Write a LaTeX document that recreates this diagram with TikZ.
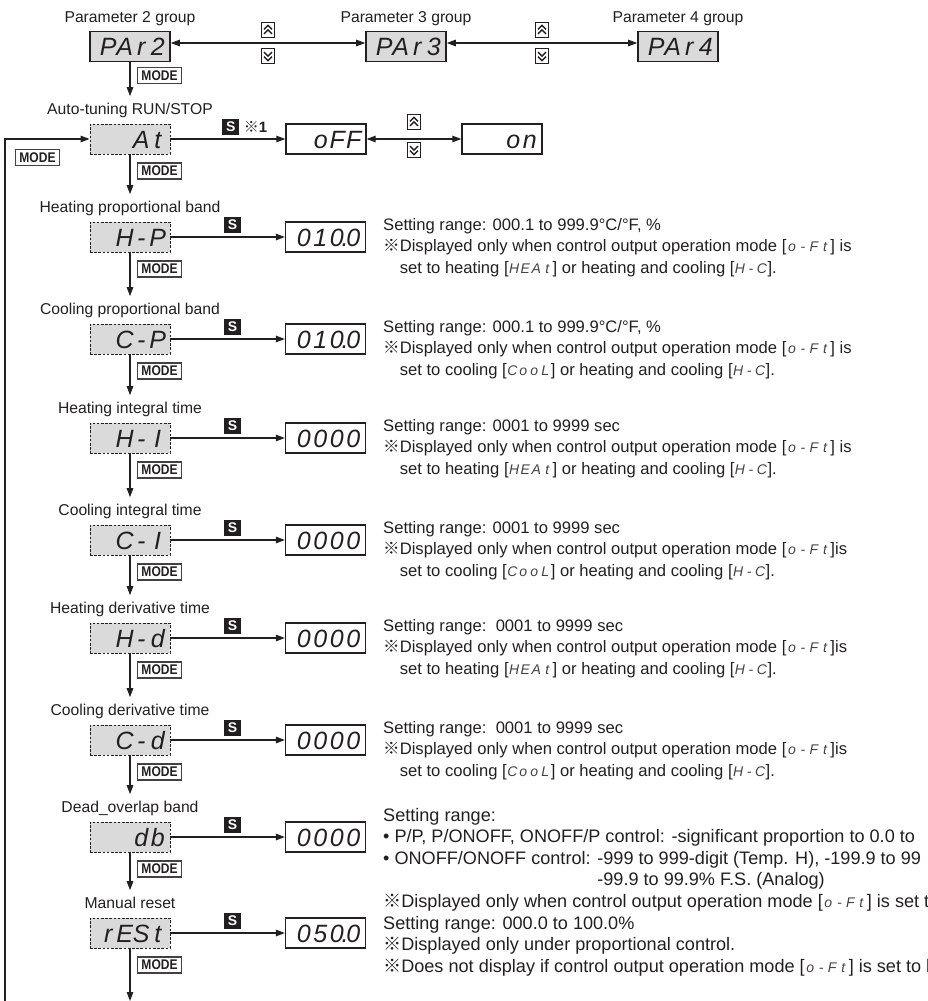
\documentclass[tikz,border=0pt]{standalone}
\usepackage{fontspec}
\setmainfont{Liberation Sans}
\newfontfamily\cjk{Noto Sans CJK JP}
\newfontfamily\keyface[FakeStretch=0.86]{Liberation Sans}
\usepackage{tikz}
\usetikzlibrary{arrows.meta, positioning, calc}
\definecolor{ink}{RGB}{35,31,32}
\definecolor{lcdgray}{RGB}{218,218,218}

% segment cells: one fixed-width cell per character, the point takes no cell
\ExplSyntaxOn
\dim_new:N \l__lcd_cell_dim
\cs_new_protected:Npn \__lcd_cell:n #1
  {
    \str_if_eq:nnTF {#1} {.}
      { \makebox[0pt][c]{.} }
      { \makebox[\l__lcd_cell_dim][c]{#1} }
  }
\NewDocumentCommand \lcdcells { m m }
  {
    \dim_set:Nn \l__lcd_cell_dim {#1}
    \tl_map_function:nN {#2} \__lcd_cell:n
  }
\ExplSyntaxOff

\newcommand{\lcd}[1]{{\fontsize{25}{25}\selectfont\itshape\lcdcells{16.5pt}{#1}}}
\newcommand{\seg}[1]{{\fontsize{14}{14}\selectfont\itshape\color{ink!85}\lcdcells{11pt}{#1}}}
\newcommand{\refmark}{{\cjk ※}}
\newcommand{\indt}{\phantom{\refmark}}

\tikzset{
  parbox/.style={rectangle, draw=ink, line width=0.9pt, dash pattern=on 2.6pt off 1.6pt,
    fill=lcdgray, minimum width=80pt, minimum height=30pt, inner sep=0pt,
    text width=72pt, align=right, text height=18pt, text depth=0pt, text=ink},
  grpbox/.style={parbox, solid, line width=1.6pt},
  valbox/.style={parbox, solid, fill=white, line width=1.3pt},
  modekey/.style={rectangle, draw=ink!85, line width=1.1pt, fill=white, inner xsep=2pt,
    inner ysep=0pt, minimum width=44pt, minimum height=16pt,
    font=\keyface\fontsize{14}{14}\selectfont\bfseries, text=ink},
  skey/.style={rectangle, fill=ink, text=white, inner sep=0pt, minimum width=17pt,
    minimum height=16pt, font=\fontsize{14}{14}\selectfont\bfseries},
  upkey/.style={rectangle, draw=ink, line width=1.2pt, fill=white, inner sep=0pt,
    minimum width=13pt, minimum height=15pt,
    path picture={\draw[ink, line width=1.4pt]
      ([shift={(-4pt,0.5pt)}]path picture bounding box.center) -- ++(4pt,4pt) -- ++(4pt,-4pt)
      ([shift={(-4pt,-4pt)}]path picture bounding box.center) -- ++(4pt,4pt) -- ++(4pt,-4pt);}},
  downkey/.style={rectangle, draw=ink, line width=1.2pt, fill=white, inner sep=0pt,
    minimum width=13pt, minimum height=15pt,
    path picture={\draw[ink, line width=1.4pt]
      ([shift={(-4pt,-0.5pt)}]path picture bounding box.center) -- ++(4pt,-4pt) -- ++(4pt,4pt)
      ([shift={(-4pt,4pt)}]path picture bounding box.center) -- ++(4pt,-4pt) -- ++(4pt,4pt);}},
  arrow/.style={-{Triangle[length=9pt,width=6.5pt]}, line width=1.1pt, draw=ink},
  dblarrow/.style={{Triangle[length=9pt,width=6.5pt]}-{Triangle[length=9pt,width=6.5pt]},
    line width=1.1pt, draw=ink},
  grplabel/.style={inner sep=0pt, text height=11.5pt, text depth=3.5pt, text=ink,
    font=\fontsize{15.7}{18}\selectfont},
  note/.style={anchor=north west, align=left, inner sep=0pt, text=ink,
    font=\fontsize{16.6}{21.5}\selectfont},
  widenote/.style={note, font=\fontsize{18.1}{21.5}\selectfont}
}

\begin{document}
\begin{tikzpicture}[x=1pt, y=-1pt]
  \useasboundingbox (0,0) rectangle (928,1001);
  \clip (0,0) rectangle (928,1001);

  % Parameter groups
  \node[grpbox] (par2) at (130,46.5) {\lcd{PAr2}};
  \node[grpbox] (par3) at (406,46.5) {\lcd{PAr3}};
  \node[grpbox] (par4) at (678,46.5) {\lcd{PAr4}};
  \node[grplabel, above=5pt of par2] {Parameter 2 group};
  \node[grplabel, above=5pt of par3] {Parameter 3 group};
  \node[grplabel, above=5pt of par4] {Parameter 4 group};
  \draw[dblarrow] ([yshift=3.5pt]par2.east) -- coordinate (k23) ([yshift=3.5pt]par3.west);
  \draw[dblarrow] ([yshift=3.5pt]par3.east) -- coordinate (k34) ([yshift=3.5pt]par4.west);
  \node[upkey, above=5pt of k23] {};
  \node[downkey, below=5pt of k23] {};
  \node[upkey, above=5pt of k34] {};
  \node[downkey, below=5pt of k34] {};

  % Auto-tuning RUN/STOP
  \node[parbox] (at) at (130,139) {\lcd{At}};
  \node[grplabel, above=5pt of at] (atlbl) {Auto-tuning RUN/STOP};
  \node[valbox] (off) at (326,139) {\lcd{oFF}};
  \node[valbox] (on) at (502,139) {\lcd{on}};
  \draw[arrow] (at) -- coordinate (atmid) (off);
  \node[skey, above=4pt of atmid, xshift=3pt] (atkey) {S};
  \node[right=4pt of atkey, inner sep=0pt, text=ink, font=\fontsize{15}{15}\selectfont] {\refmark\textbf{1}};
  \draw[dblarrow] (off) -- coordinate (k56) (on);
  \node[upkey, above=9pt of k56] {};
  \node[downkey, below=3pt of k56] {};
  \draw[arrow] (par2) -- ([yshift=7pt]atlbl.north);
  \node[modekey, below right=5pt and 7pt of par2.south] {MODE};

  % Return loop
  \coordinate (loopbot) at (5,1010);
  \draw[arrow] (loopbot) |- (at.west);
  \node[modekey] (loopkey) at (37.5,157.5) {MODE};

  % Heating proportional band
  \node[parbox] (hp) at (130,237) {\lcd{H-P}};
  \node[grplabel, above=5pt of hp] (hplbl) {Heating proportional band};
  \node[valbox] (hpval) at (325.5,237) {\lcd{010.0}};
  \draw[arrow] (hp) -- coordinate (hpmid) (hpval);
  \node[skey, above=4pt of hpmid, xshift=5pt] {S};
  \draw[arrow] (at) -- ([yshift=7pt]hplbl.north);
  \node[modekey, below right=8pt and 7pt of at.south] {MODE};
  \node[note] at (383,218) {Setting range: 000.1 to 999.9°C/°F, \%\\
    \refmark Displayed only when control output operation mode [\seg{o-Ft}] is\\
    \indt set to heating [\seg{HEAt}] or heating and cooling [\seg{H-C}].};

  % Cooling proportional band
  \node[parbox] (cp) at (130,339) {\lcd{C-P}};
  \node[grplabel, above=5pt of cp] (cplbl) {Cooling proportional band};
  \node[valbox] (cpval) at (325.5,339) {\lcd{010.0}};
  \draw[arrow] (cp) -- coordinate (cpmid) (cpval);
  \node[skey, above=4pt of cpmid, xshift=5pt] {S};
  \draw[arrow] (hp) -- ([yshift=7pt]cplbl.north);
  \node[modekey, below right=8pt and 7pt of hp.south] {MODE};
  \node[note] at (383,320) {Setting range: 000.1 to 999.9°C/°F, \%\\
    \refmark Displayed only when control output operation mode [\seg{o-Ft}] is\\
    \indt set to cooling [\seg{CooL}] or heating and cooling [\seg{H-C}].};

  % Heating integral time
  \node[parbox] (hi) at (130,438) {\lcd{H-I}};
  \node[grplabel, above=5pt of hi] (hilbl) {Heating integral time};
  \node[valbox] (hival) at (325.5,438) {\lcd{0000}};
  \draw[arrow] (hi) -- coordinate (himid) (hival);
  \node[skey, above=4pt of himid, xshift=5pt] {S};
  \draw[arrow] (cp) -- ([yshift=7pt]hilbl.north);
  \node[modekey, below right=8pt and 7pt of cp.south] {MODE};
  \node[note] at (383,419) {Setting range: 0001 to 9999 sec\\
    \refmark Displayed only when control output operation mode [\seg{o-Ft}] is\\
    \indt set to heating [\seg{HEAt}] or heating and cooling [\seg{H-C}].};

  % Cooling integral time
  \node[parbox] (ci) at (130,540) {\lcd{C-I}};
  \node[grplabel, above=5pt of ci] (cilbl) {Cooling integral time};
  \node[valbox] (cival) at (325.5,540) {\lcd{0000}};
  \draw[arrow] (ci) -- coordinate (cimid) (cival);
  \node[skey, above=4pt of cimid, xshift=5pt] {S};
  \draw[arrow] (hi) -- ([yshift=7pt]cilbl.north);
  \node[modekey, below right=8pt and 7pt of hi.south] {MODE};
  \node[note] at (383,521) {Setting range: 0001 to 9999 sec\\
    \refmark Displayed only when control output operation mode [\seg{o-Ft}]is\\
    \indt set to cooling [\seg{CooL}] or heating and cooling [\seg{H-C}].};

  % Heating derivative time
  \node[parbox] (hd) at (130,638) {\lcd{H-d}};
  \node[grplabel, above=5pt of hd] (hdlbl) {Heating derivative time};
  \node[valbox] (hdval) at (325.5,638) {\lcd{0000}};
  \draw[arrow] (hd) -- coordinate (hdmid) (hdval);
  \node[skey, above=4pt of hdmid, xshift=5pt] {S};
  \draw[arrow] (ci) -- ([yshift=7pt]hdlbl.north);
  \node[modekey, below right=8pt and 7pt of ci.south] {MODE};
  \node[note] at (383,619) {Setting range:\ \ 0001 to 9999 sec\\
    \refmark Displayed only when control output operation mode [\seg{o-Ft}]is\\
    \indt set to heating [\seg{HEAt}] or heating and cooling [\seg{H-C}].};

  % Cooling derivative time
  \node[parbox] (cd) at (130,740) {\lcd{C-d}};
  \node[grplabel, above=5pt of cd] (cdlbl) {Cooling derivative time};
  \node[valbox] (cdval) at (325.5,740) {\lcd{0000}};
  \draw[arrow] (cd) -- coordinate (cdmid) (cdval);
  \node[skey, above=4pt of cdmid, xshift=5pt] {S};
  \draw[arrow] (hd) -- ([yshift=7pt]cdlbl.north);
  \node[modekey, below right=8pt and 7pt of hd.south] {MODE};
  \node[note] at (383,721) {Setting range:\ \ 0001 to 9999 sec\\
    \refmark Displayed only when control output operation mode [\seg{o-Ft}]is\\
    \indt set to cooling [\seg{CooL}] or heating and cooling [\seg{H-C}].};

  % Dead_overlap band
  \node[parbox] (db) at (130,837) {\lcd{db}};
  \node[grplabel, above=5pt of db] (dblbl) {Dead\_overlap band};
  \node[valbox] (dbval) at (325.5,837) {\lcd{0000}};
  \draw[arrow] (db) -- coordinate (dbmid) (dbval);
  \node[skey, above=4pt of dbmid, xshift=5pt] {S};
  \draw[arrow] (cd) -- ([yshift=7pt]dblbl.north);
  \node[modekey, below right=8pt and 7pt of cd.south] {MODE};
  \node[widenote] at (383,808) {Setting range:\\
    • P/P, P/ONOFF, ONOFF/P control: -significant proportion to 0.0 to\\
    • ONOFF/ONOFF control: -999 to 999-digit (Temp. H), -199.9 to 99\\
    \phantom{• ONOFF/ONOFF control: }-99.9 to 99.9\% F.S. (Analog)\\
    \refmark Displayed only when control output operation mode [\seg{o-Ft}] is set to};

  % Manual reset
  \node[parbox] (rst) at (130,933) {\lcd{rESt}};
  \node[grplabel, above=5pt of rst] (rstlbl) {Manual reset};
  \node[valbox] (rstval) at (325.5,933) {\lcd{050.0}};
  \draw[arrow] (rst) -- coordinate (rstmid) (rstval);
  \node[skey, above=4pt of rstmid, xshift=5pt] {S};
  \draw[arrow] (db) -- ([yshift=7pt]rstlbl.north);
  \node[modekey, below right=8pt and 7pt of db.south] {MODE};
  \node[widenote] at (383,916) {Setting range: 000.0 to 100.0\%\\
    \refmark Displayed only under proportional control.\\
    \refmark Does not display if control output operation mode [\seg{o-Ft}] is set to h};
  \coordinate (exit) at (130,1001);
  \draw[arrow] (rst) -- (exit);
  \node[modekey, below right=8pt and 7pt of rst.south] {MODE};
\end{tikzpicture}
\end{document}
